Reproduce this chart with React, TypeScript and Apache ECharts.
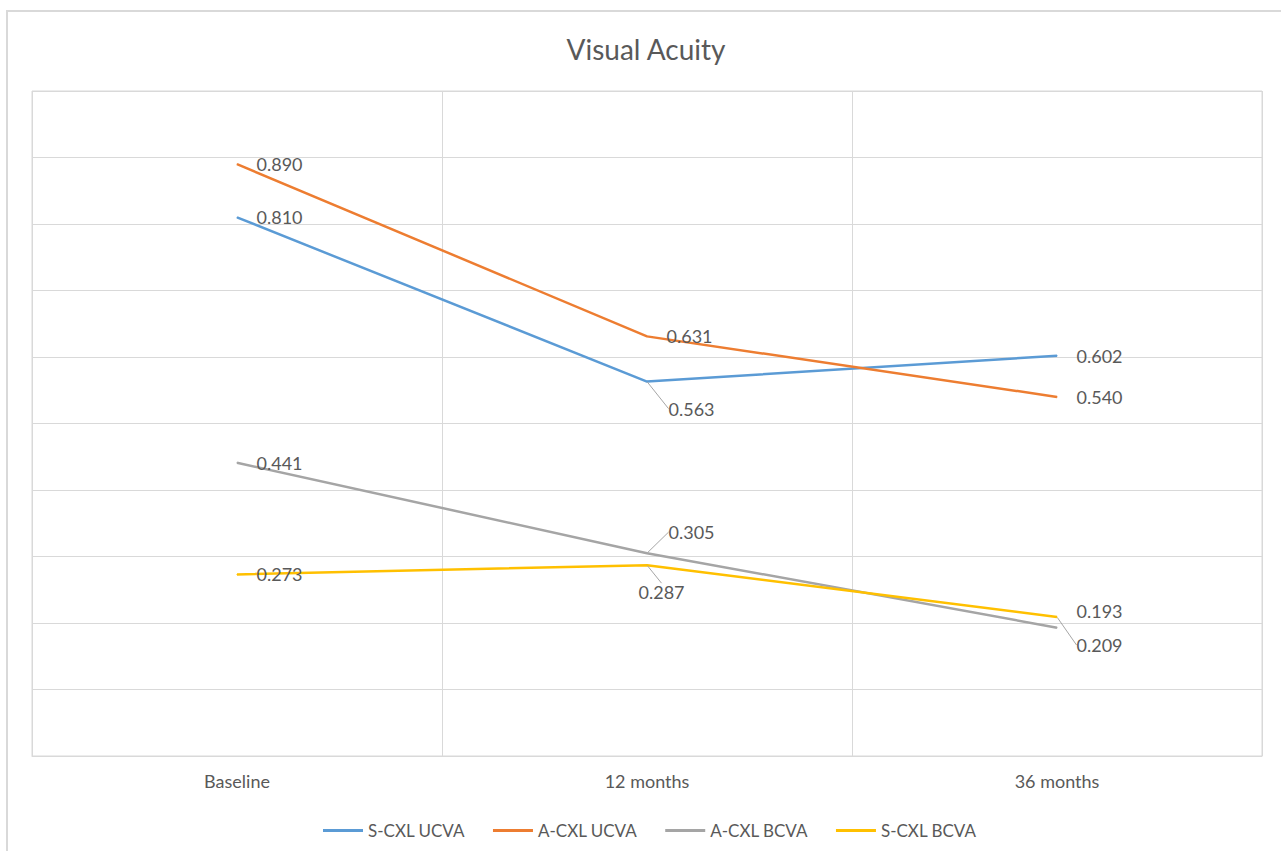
import React, { useEffect, useRef } from "react";
import * as echarts from "echarts";

const categories = ["Baseline", "12 months", "36 months"];
const seriesNames = ["S-CXL UCVA", "A-CXL UCVA", "A-CXL BCVA", "S-CXL BCVA"];
const sCxlUcva = [0.81, 0.563, 0.602];
const aCxlUcva = [0.89, 0.631, 0.54];
const aCxlBcva = [0.441, 0.305, 0.193];
const sCxlBcva = [0.273, 0.287, 0.209];
const yTicks = { min: 0, max: 1, interval: 0.1 };

const colors = ["#5b9bd5", "#ed7d31", "#a5a5a5", "#ffc000"];
// label offsets [dx, dy, leader] relative to default right position; null = default
const labelOffsets: ([number, number, boolean] | null)[][] = [
  [null, [2, 27, true], null],
  [null, null, null],
  [null, [2, -21, true], [0, -17, false]],
  [null, [-28, 27, true], [0, 28, true]],
];

const TEXT = "#595959";
const FONT = "Lato";

export default function App() {
  const ref = useRef<HTMLDivElement>(null);
  useEffect(() => {
    const chart = echarts.init(ref.current!, null, { renderer: "svg" });
    const values = [sCxlUcva, aCxlUcva, aCxlBcva, sCxlBcva];
    const series = values.map((vals, si) => ({
      name: seriesNames[si],
      type: "line",
      symbol: "circle",
      symbolSize: 1,
      showSymbol: true,
      lineStyle: { color: colors[si], width: 2.5 },
      itemStyle: { color: colors[si] },
      data: vals.map((v, di) => ({
        value: v,
        labelLine: {
          show: !!(labelOffsets[si][di] && labelOffsets[si][di]![2]),
          lineStyle: { color: "#a6a6a6", width: 1 },
        },
      })),
      label: {
        show: true,
        position: "right",
        distance: 19,
        color: TEXT,
        fontFamily: FONT,
        fontSize: 18,
        formatter: (p: any) => Number(p.value).toFixed(3),
      },
      labelLine: { show: false, lineStyle: { color: "#a6a6a6", width: 1 } },
      labelLayout: (p: any) => {
        const o = labelOffsets[si][p.dataIndex];
        return o ? { dx: o[0], dy: o[1] } : {};
      },
    }));
    chart.setOption({
      animation: false,
      backgroundColor: "#ffffff",
      title: {
        text: "Visual Acuity",
        left: 641,
        textAlign: "center",
        top: 30,
        textStyle: { color: TEXT, fontFamily: FONT, fontSize: 28, fontWeight: "normal" },
      },
      graphic: [
        {
          type: "rect",
          shape: { x: 7, y: 11, width: 1300, height: 900 },
          style: { fill: "none", stroke: "#d9d9d9", lineWidth: 2 },
          silent: true,
        },
      ],
      legend: {
        left: 318,
        top: 817,
        icon: "rect",
        itemWidth: 40,
        itemHeight: 3,
        itemGap: 28,
        textStyle: { color: TEXT, fontFamily: FONT, fontSize: 17 },
        data: seriesNames,
      },
      grid: {
        left: 32,
        top: 91,
        right: 19,
        bottom: 95,
        show: true,
        borderColor: "#d9d9d9",
        borderWidth: 1,
      },
      xAxis: {
        type: "category",
        data: categories,
        boundaryGap: true,
        axisLine: { lineStyle: { color: "#d9d9d9" } },
        axisTick: { show: false },
        splitLine: { show: true, lineStyle: { color: "#d9d9d9" } },
        axisLabel: { color: TEXT, fontFamily: FONT, fontSize: 18, margin: 16 },
      },
      yAxis: {
        type: "value",
        min: yTicks.min,
        max: yTicks.max,
        interval: yTicks.interval,
        axisLabel: { show: false },
        axisLine: { show: false },
        axisTick: { show: false },
        splitLine: { show: true, lineStyle: { color: "#d9d9d9" } },
      },
      series,
    });
    return () => chart.dispose();
  }, []);
  return (
    <div
      ref={ref}
      style={{ position: "absolute", left: 0, top: 0, width: 1281, height: 851 }}
    />
  );
}
